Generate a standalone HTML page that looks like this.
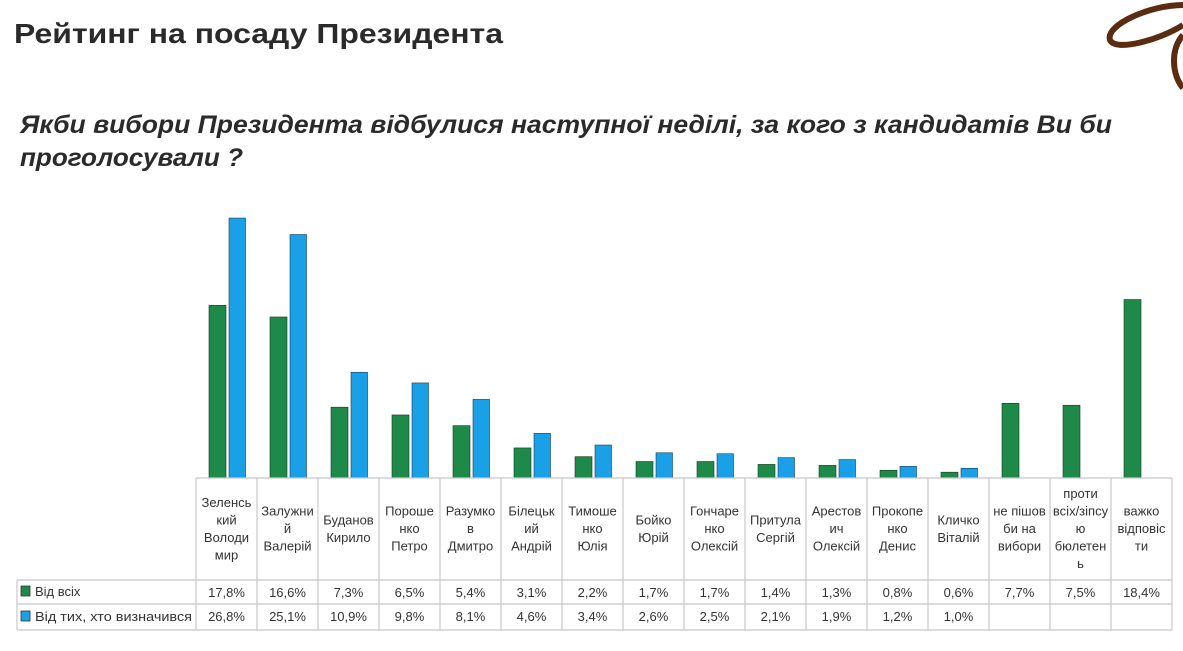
<!DOCTYPE html>
<html><head><meta charset="utf-8"><style>
body{margin:0;background:#fff;width:1183px;height:646px;overflow:hidden;font-family:"Liberation Sans","DejaVu Sans",sans-serif}
</style></head><body>
<svg width="1183" height="646" xmlns="http://www.w3.org/2000/svg" font-family="Liberation Sans, DejaVu Sans, sans-serif">
<text x="14" y="43" font-size="28" font-weight="bold" fill="#2a2a2a" textLength="489" lengthAdjust="spacingAndGlyphs">Рейтинг на посаду Президента</text>
<text x="20" y="133" font-size="25" font-weight="bold" font-style="italic" fill="#2a2a2a" textLength="1092" lengthAdjust="spacingAndGlyphs">Якби вибори Президента відбулися наступної неділі, за кого з кандидатів Ви би</text>
<text x="20" y="166" font-size="25" font-weight="bold" font-style="italic" fill="#2a2a2a" textLength="223" lengthAdjust="spacingAndGlyphs">проголосували ?</text>
<path d="M1183,5 C1150,5 1105,25 1110,40 C1115,52 1160,40 1183,25" fill="none" stroke="#5a2d12" stroke-width="6"/>
<path d="M1183,35 C1170,50 1172,75 1183,88" fill="none" stroke="#5a2d12" stroke-width="6"/>
<g id="bars"></g>
<g id="table" stroke="#c8c8c8" stroke-width="1.2" fill="none">
<line x1="196" y1="478" x2="1172" y2="478"/>
<line x1="17" y1="580" x2="1172" y2="580"/>
<line x1="17" y1="604" x2="1172" y2="604"/>
<line x1="17" y1="630" x2="1172" y2="630"/>
<line x1="17" y1="580" x2="17" y2="630"/>
</g>
<g id="txt" font-size="13" fill="#333" text-anchor="middle"></g>
<rect x="21" y="586" width="9" height="10" fill="#1e8a4a" stroke="#333" stroke-width="0.8"/>
<rect x="21" y="611" width="9" height="10" fill="#1aa0e6" stroke="#333" stroke-width="0.8"/>
<text x="35" y="596" font-size="13" fill="#333">Від всіх</text>
<text x="35" y="621" font-size="13" fill="#333" textLength="157" lengthAdjust="spacingAndGlyphs">Від тих, хто визначився</text>
</svg>
<script>
var ns="http://www.w3.org/2000/svg";
var names=[["Зеленсь","кий","Володи","мир"],["Залужни","й","Валерій"],["Буданов","Кирило"],["Пороше","нко","Петро"],["Разумко","в","Дмитро"],["Білецьк","ий","Андрій"],["Тимоше","нко","Юлія"],["Бойко","Юрій"],["Гончаре","нко","Олексій"],["Притула","Сергій"],["Арестов","ич","Олексій"],["Прокопе","нко","Денис"],["Кличко","Віталій"],["не пішов","би на","вибори"],["проти","всіх/зіпсу","ю","бюлетен","ь"],["важко","відповіс","ти"]];
var a=[17.8,16.6,7.3,6.5,5.4,3.1,2.2,1.7,1.7,1.4,1.3,0.8,0.6,7.7,7.5,18.4];
var b=[26.8,25.1,10.9,9.8,8.1,4.6,3.4,2.6,2.5,2.1,1.9,1.2,1.0,null,null,null];
var W=61.0,X0=196,B=478,S=9.7;
var bars=document.getElementById('bars'),tb=document.getElementById('table'),tx=document.getElementById('txt');
function el(p,t,at,s){var e=document.createElementNS(ns,t);for(var k in at)e.setAttribute(k,at[k]);if(s!=null)e.textContent=s;p.appendChild(e);return e;}
for(var i=0;i<16;i++){
 var x=X0+i*W,c=x+W/2;
 var h=a[i]*S; el(bars,'rect',{x:c-17.5,y:B-h,width:17,height:h,fill:'#1e8a4a',stroke:'#1a3a24','stroke-width':0.6});
 if(b[i]!=null){h=b[i]*S;el(bars,'rect',{x:c+2.5,y:B-h,width:16.5,height:h,fill:'#1aa0e6',stroke:'#1a3a5a','stroke-width':0.6});}
 el(tb,'line',{x1:x,y1:478,x2:x,y2:630});
 var n=names[i],lh=17.5,y0=529-(n.length-1)*lh/2+4;
 for(var j=0;j<n.length;j++)el(tx,'text',{x:c,y:y0+j*lh},n[j]);
 el(tx,'text',{x:c,y:597},a[i].toFixed(1).replace('.',',')+'%');
 if(b[i]!=null)el(tx,'text',{x:c,y:621},b[i].toFixed(1).replace('.',',')+'%');
}
el(tb,'line',{x1:1172,y1:478,x2:1172,y2:630});
</script>
</body></html>
